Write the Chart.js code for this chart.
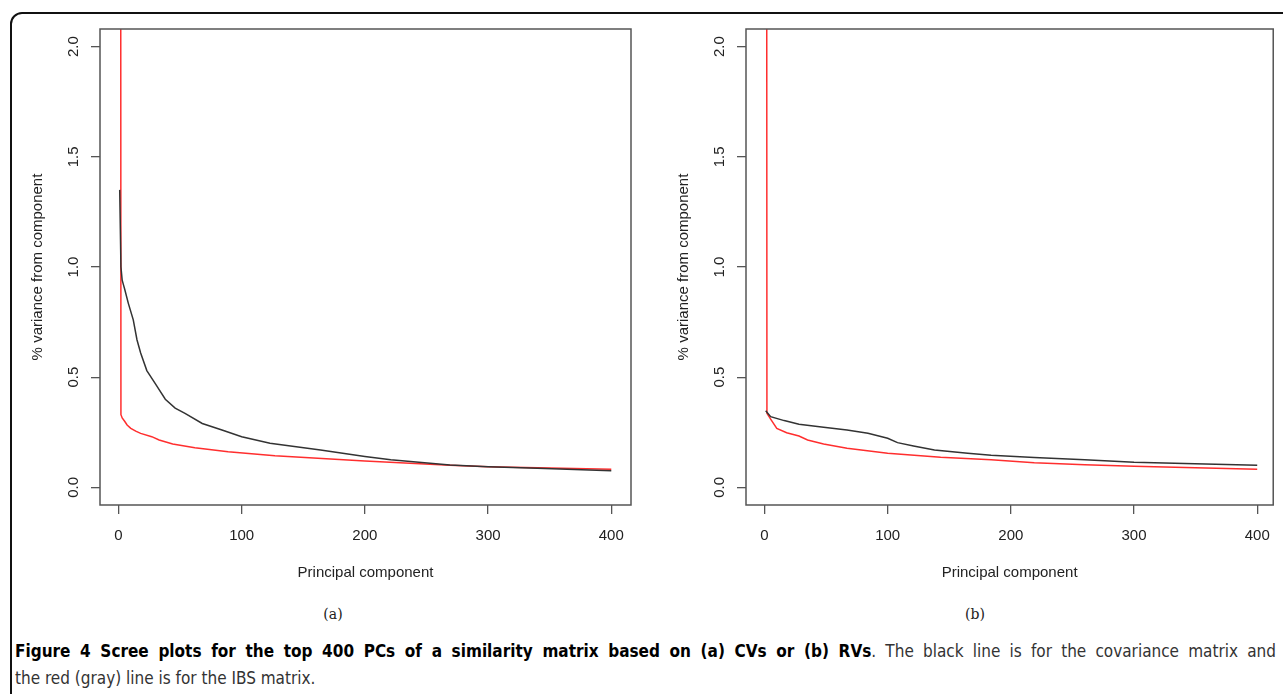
<!DOCTYPE html>
<html>
<head>
<meta charset="utf-8">
<script src="https://cdn.jsdelivr.net/npm/chart.js@4.4.1/dist/chart.umd.min.js"></script>
<style>
  html, body { margin: 0; padding: 0; background: #fff; }
  body { width: 1283px; height: 694px; position: relative; overflow: hidden; }
  #frame {
    position: absolute; left: 10px; top: 12px; width: 1300px; height: 700px;
    border: 2px solid #111; border-radius: 12px; box-sizing: border-box;
  }
  .panel { position: absolute; top: 0; height: 600px; }
  #panelA { left: 0; width: 640px; }
  #panelB { left: 646px; width: 637px; }
  .sub {
    position: absolute; top: 606px; font-family: "DejaVu Serif", "Liberation Serif", serif;
    font-size: 14px; color: #222; transform: translateX(-50%);
  }
  #cap {
    position: absolute; left: 15px; top: 638px; width: 1261px;
    font-family: "Liberation Sans Narrow", "DejaVu Sans Condensed", sans-serif;
    font-size: 17px; line-height: 27px; color: #333;
  }
  #cap .l1 { display: block; white-space: nowrap; text-align: justify; text-align-last: justify; }
  #cap .l2 { display: block; white-space: nowrap; }
  #cap b { color: #000; }
</style>
</head>
<body>
<div id="frame"></div>
<div class="panel" id="panelA"><canvas id="chartA" width="640" height="600"></canvas></div>
<div class="panel" id="panelB"><canvas id="chartB" width="637" height="600"></canvas></div>
<div class="sub" style="left:333px">(a)</div>
<div class="sub" style="left:975px">(b)</div>
<div id="cap"><span class="l1"><b>Figure 4 Scree plots for the top 400 PCs of a similarity matrix based on (a) CVs or (b) RVs</b>. The black line is for the covariance matrix and</span><span class="l2">the red (gray) line is for the IBS matrix.</span></div>

<script>
// panel (a): CVs
const aCovPC = [1, 2, 3, 4, 5, 8, 12, 15, 18, 23, 30, 38, 46, 54, 68, 84, 100, 123, 164, 200, 221, 269, 300, 340, 400];
const aCovVar = [1.35, 1.0, 0.94, 0.92, 0.9, 0.835, 0.76, 0.67, 0.61, 0.53, 0.47, 0.40, 0.36, 0.336, 0.29, 0.26, 0.23, 0.2, 0.17, 0.14, 0.125, 0.102, 0.094, 0.087, 0.075];
const aIbsPC = [1, 2, 3, 5, 7, 10, 14, 18, 27, 33, 44, 62, 89, 127, 200, 269, 300, 400];
const aIbsVar = [12, 0.33, 0.315, 0.3, 0.283, 0.268, 0.255, 0.245, 0.23, 0.215, 0.197, 0.18, 0.162, 0.144, 0.12, 0.10, 0.094, 0.082];

// panel (b): RVs
const bCovPC = [1, 5, 16, 28, 48, 67, 84, 100, 108, 121, 138, 165, 184, 219, 260, 300, 341, 400];
const bCovVar = [0.348, 0.321, 0.303, 0.286, 0.273, 0.26, 0.246, 0.223, 0.203, 0.188, 0.17, 0.155, 0.146, 0.135, 0.125, 0.114, 0.108, 0.10];
const bIbsPC = [1, 2, 5, 10, 18, 28, 35, 48, 67, 100, 143, 184, 219, 260, 300, 400];
const bIbsVar = [12, 0.336, 0.31, 0.268, 0.248, 0.233, 0.215, 0.197, 0.178, 0.155, 0.137, 0.125, 0.112, 0.103, 0.096, 0.082];

const xTicks = [0, 100, 200, 300, 400];
const yTicks = [0.0, 0.5, 1.0, 1.5, 2.0];

const axisFont = { family: "'Liberation Sans', Arial, sans-serif", size: 15 };
const axisColor = "#555";
const textColor = "#222";

// R-style closed box round the plot region
const boxPlugin = {
  id: "box",
  afterDraw(chart) {
    const { ctx, chartArea: a } = chart;
    ctx.save();
    ctx.strokeStyle = axisColor;
    ctx.lineWidth = 1.5;
    ctx.strokeRect(a.left, a.top, a.right - a.left, a.bottom - a.top);
    ctx.restore();
  }
};

function toPoints(xs, ys) {
  return xs.map((x, i) => ({ x: x, y: ys[i] }));
}

function makeChart(id, cov, ibs, xMax) {
  return new Chart(document.getElementById(id), {
    type: "line",
    data: {
      datasets: [
        { label: "covariance", data: cov, borderColor: "#333", borderWidth: 1.5, pointRadius: 0, tension: 0 },
        { label: "IBS", data: ibs, borderColor: "#ff2e2e", borderWidth: 1.5, pointRadius: 0, tension: 0 }
      ]
    },
    options: {
      responsive: false,
      animation: false,
      layout: { padding: { left: 20, top: 29, right: 9, bottom: 15 } },
      plugins: { legend: { display: false }, tooltip: { enabled: false } },
      scales: {
        x: {
          type: "linear",
          min: -15,
          max: xMax,
          afterFit: s => { s.height = 80; },
          afterBuildTicks: s => { s.ticks = xTicks.map(v => ({ value: v })); },
          grid: { drawOnChartArea: false, tickLength: 9, color: axisColor, lineWidth: 1.3 },
          border: { display: false },
          ticks: { font: axisFont, color: textColor, padding: 13, maxRotation: 0, autoSkip: false },
          title: { display: true, text: "Principal component", font: axisFont, color: textColor, padding: { top: 0, bottom: 3 } }
        },
        y: {
          type: "linear",
          min: -0.08,
          max: 2.08,
          afterFit: s => { s.width = 80; },
          afterBuildTicks: s => { s.ticks = yTicks.map(v => ({ value: v })); },
          grid: { drawOnChartArea: false, tickLength: 9, color: axisColor, lineWidth: 1.3 },
          border: { display: false },
          ticks: {
            font: axisFont, color: textColor, padding: 7, minRotation: 90, maxRotation: 90,
            crossAlign: "center", autoSkip: false,
            callback: v => v.toFixed(1)
          },
          title: { display: true, text: "% variance from component", font: axisFont, color: textColor, padding: { top: 8.5, bottom: 0 } }
        }
      }
    },
    plugins: [boxPlugin]
  });
}

makeChart("chartA", toPoints(aCovPC, aCovVar), toPoints(aIbsPC, aIbsVar), 416);
makeChart("chartB", toPoints(bCovPC, bCovVar), toPoints(bIbsPC, bIbsVar), 413);
</script>
</body>
</html>
